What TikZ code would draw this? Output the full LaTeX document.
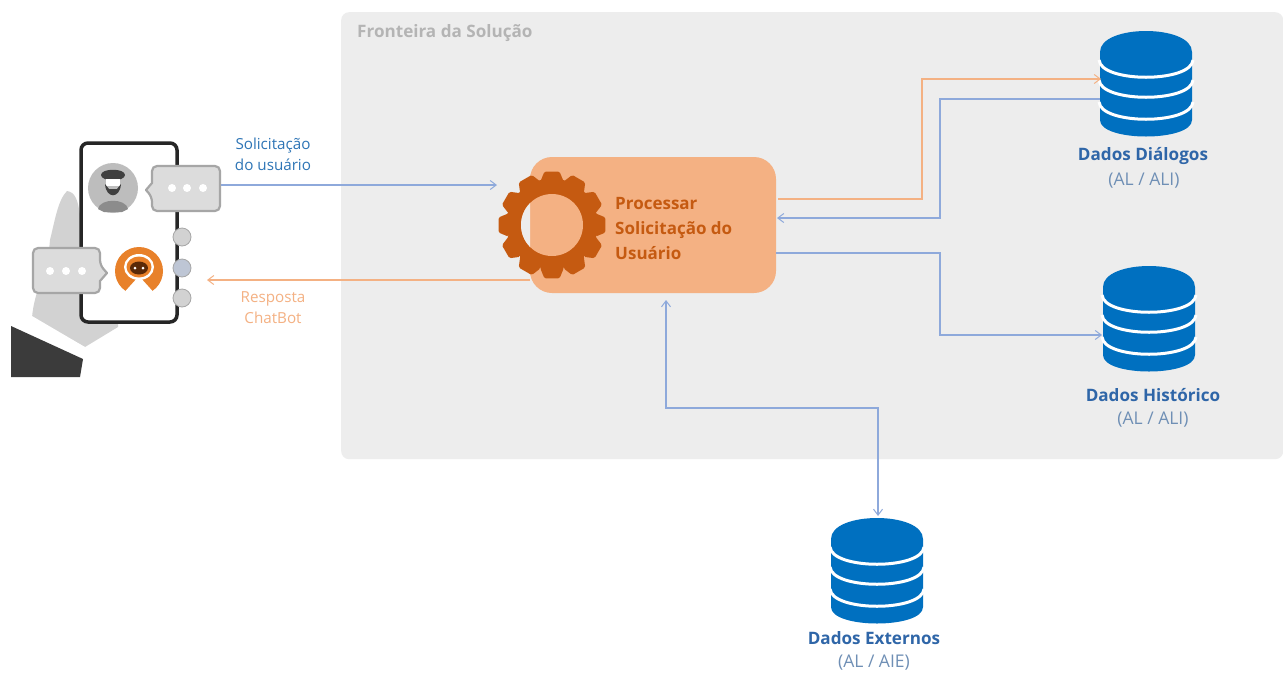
\documentclass[tikz,border=0pt]{standalone}
\usepackage{fontspec}
\setmainfont{Open Sans}
\usetikzlibrary{arrows.meta}
\definecolor{panelgray}{HTML}{EDEDED}
\definecolor{paneltext}{HTML}{B4B4B4}
\definecolor{dbblue}{HTML}{0070C0}
\definecolor{linkblue}{HTML}{8EA9DB}
\definecolor{linkorange}{HTML}{F4B183}
\definecolor{textblue}{HTML}{2E75B6}
\definecolor{titleblue}{HTML}{2F66A8}
\definecolor{subgray}{HTML}{6F8FB5}
\definecolor{boxorange}{HTML}{F4B183}
\definecolor{gearorange}{HTML}{C55A11}
\definecolor{botorange}{HTML}{E8812A}
\definecolor{bubblefill}{HTML}{DCDCDC}
\definecolor{bubbleline}{HTML}{A6A6A6}
\definecolor{handgray}{HTML}{D2D2D2}
\definecolor{sleeve}{HTML}{3B3B3B}
\tikzset{
  link/.style={line width=1.1pt, draw=#1, arrows={-{Straight Barb[length=6pt,width=9pt,line width=1pt]}}},
  dbnode/.style={minimum width=92pt, minimum height=104pt, inner sep=0pt, outer sep=0pt},
  dbtitle/.style={font=\fontsize{17.1}{20}\selectfont\bfseries, text=titleblue, inner sep=0pt},
  dbsub/.style={font=\fontsize{17.5}{20}\selectfont, text=subgray, inner sep=0pt},
  lbl/.style={font=\fontsize{15.2}{21}\selectfont, align=center, inner sep=0pt},
  bubble/.style={draw=bubbleline, fill=bubblefill, line width=2.2pt, rounded corners=5pt, line join=round},
  dbicon/.pic={
    \fill[dbblue] (-46,21) .. controls (-46,-7) and (46,-7) .. (46,21)
       -- (46,89) .. controls (46,111) and (-46,111) .. (-46,89) -- cycle;
    \foreach \yy in {29,49,71}{
      \draw[white, line width=3pt] (-47,\yy) .. controls (-45,\yy+23) and (45,\yy+23) .. (47,\yy);
    }
  }
}
\begin{document}
\begin{tikzpicture}[x=1pt,y=-1pt]
\useasboundingbox (0,0) rectangle (1283,673);
\node[fill=white,minimum width=1283pt,minimum height=673pt,inner sep=0pt,outer sep=0pt,anchor=north west] (bg) at (0,0) {};
\node[fill=panelgray,rounded corners=8pt,minimum width=942pt,minimum height=447pt,inner sep=0pt,anchor=north west] (panel) at (341,12) {};
\node[anchor=west,inner sep=0pt,text=paneltext,font=\fontsize{17.1}{20}\selectfont\bfseries] (ptitle) at (357,33) {Fronteira da Solução};

% process box and gear
\node[fill=boxorange,rounded corners=22pt,minimum width=246pt,minimum height=136pt,inner sep=0pt,outer sep=0pt,anchor=north west] (proc) at (530,157) {};
\node[anchor=west,inner sep=0pt,align=left,text=gearorange,font=\fontsize{17}{25}\selectfont\bfseries] (ptext) at (615,229) {Processar\\Solicitação do\\Usuário};
\begin{scope}[shift={(552,225)}]
\fill[gearorange,even odd rule,rounded corners=1.5pt]
  (-15:45) \foreach \a in {0,30,...,330}{
    -- (\a-15:45) -- (\a-8:54) -- (\a+8:54) -- (\a+15:45)
  } -- cycle;
\fill[boxorange] (0,0) circle[radius=31pt];
\begin{scope}
\clip (-31,-31) rectangle (-22,31);
\fill[panelgray] (0,0) circle[radius=31pt];
\end{scope}
\end{scope}

% databases
\node[dbnode] (db1) at (1146,83) {};
\pic at (1146,31) {dbicon};
\node[dbnode] (db2) at (1149,318) {};
\pic at (1149,266) {dbicon};
\node[dbnode] (db3) at (877,570) {};
\pic at (877,518) {dbicon};
\node[dbtitle] (t1) at (1143,156) {Dados Diálogos};
\node[dbsub]   (s1) at (1144,181) {(AL / ALI)};
\node[dbtitle] (t2) at (1153,395) {Dados Histórico};
\node[dbsub]   (s2) at (1153,420) {(AL / ALI)};
\node[dbtitle] (t3) at (874,638) {Dados Externos};
\node[dbsub]   (s3) at (874,663) {(AL / AIE)};

% hand
\fill[handgray] (67,191) .. controls (75,192) and (78,200) .. (80,215) -- (120,300) -- (118,327)
  -- (85,347) -- (32,318) .. controls (34,290) and (48,270) .. (50,240) .. controls (55,220) and (58,200) .. (67,191) -- cycle;
\fill[white] (14,322) -- (32,316) -- (90,350) -- (85,358) -- cycle;
\fill[sleeve] (11,326) -- (83,359) -- (80,377) -- (11,377) -- cycle;

% phone
\node[draw=black!85,fill=white,line width=3.5pt,rounded corners=7pt,minimum width=96pt,minimum height=179pt,inner sep=0pt,outer sep=0pt,anchor=north west] (phone) at (81,143) {};

% side buttons
\node[circle,fill=handgray,draw=bubbleline,line width=.8pt,minimum size=18pt,inner sep=0pt] (b1) at (182,237) {};
\node[circle,fill=handgray!70!linkblue,draw=bubbleline,line width=.8pt,minimum size=18pt,inner sep=0pt] (b2) at (182,268) {};
\node[circle,fill=handgray,draw=bubbleline,line width=.8pt,minimum size=18pt,inner sep=0pt] (b3) at (182,298) {};

% user avatar
\node[circle,fill=handgray!90!black,minimum size=50pt,inner sep=0pt] (user) at (113,188) {};
\fill[black!75] (101,175) .. controls (101,168) and (125,168) .. (125,175) .. controls (125,182) and (101,182) .. (101,175) -- cycle;
\fill[white] (106,179) -- (120,179) -- (120,186) -- (106,186) -- cycle;
\fill[black!75] (105,184) .. controls (106,199) and (120,199) .. (121,184) -- (117,189) -- (109,189) -- cycle;
\fill[black!45] (98,209) .. controls (100,198) and (126,198) .. (128,209) -- (122,212) -- (104,212) -- cycle;

% user bubble
\draw[bubble] (152,166) -- (220,166) -- (220,211) -- (152,211) -- (152,197) [sharp corners] -- (146,190) -- (152,183) [rounded corners=5pt] -- cycle;
\node[inner sep=0pt] (ubub) at (187,188) {};
\foreach \dx in {-15,0,16}{ \fill[white] (187+\dx,188) circle[radius=4pt]; }

% bot avatar
\node[circle,fill=botorange,minimum size=48pt,inner sep=0pt] (bot) at (139,271) {};
\fill[white] (139,276) -- (157,296) -- (121,296) -- cycle;
\fill[white] (139,267) ellipse[x radius=15pt,y radius=13pt];
\fill[botorange] (139,267) ellipse[x radius=12.5pt,y radius=10.5pt];
\fill[black!55!gearorange] (139,268) ellipse[x radius=9pt,y radius=6.5pt];
\fill[white] (135,268) circle[radius=1.5pt] (143,268) circle[radius=1.5pt];

% bot bubble
\draw[bubble] (33,248) -- (100,248) -- (100,265) [sharp corners] -- (107,273) -- (100,281) [rounded corners=5pt] -- (100,293) -- (33,293) -- cycle;
\node[inner sep=0pt] (bbub) at (66,271) {};
\foreach \dx in {-16,0,16}{ \fill[white] (66+\dx,271) circle[radius=4pt]; }

% connector end points
\coordinate (uout) at (221,185);
\coordinate (uin)  at (497,185);
\coordinate (rout) at (530,280);
\coordinate (rin)  at (207,280);
\coordinate (p1) at (778,199);
\coordinate (d1a) at (1101,79);
\coordinate (d1b) at (1100,99);
\coordinate (p2) at (777,218);
\coordinate (p3) at (776,253);
\coordinate (d2a) at (1102,335);
\coordinate (p4) at (666,300);
\coordinate (d3a) at (878,516);

\draw[link=linkblue] (uout) -- (uin);
\draw[link=linkorange] (rout) -- (rin);
\draw[link=linkorange] (p1) -- (922,199) -- (922,79) -- (d1a);
\draw[link=linkblue] (d1b) -- (940,99) -- (940,218) -- (p2);
\draw[link=linkblue] (p3) -- (940,253) -- (940,335) -- (d2a);
\draw[line width=1.1pt,draw=linkblue,arrows={{Straight Barb[length=6pt,width=9pt,line width=1pt]}-{Straight Barb[length=6pt,width=9pt,line width=1pt]}}] (p4) -- (666,408) -- (878,408) -- (d3a);

% labels
\node[lbl,text=textblue] (lsol) at (273,154) {Solicitação\\do usuário};
\node[lbl,text=linkorange] (lres) at (273,308) {Resposta\\ChatBot};
\end{tikzpicture}
\end{document}
